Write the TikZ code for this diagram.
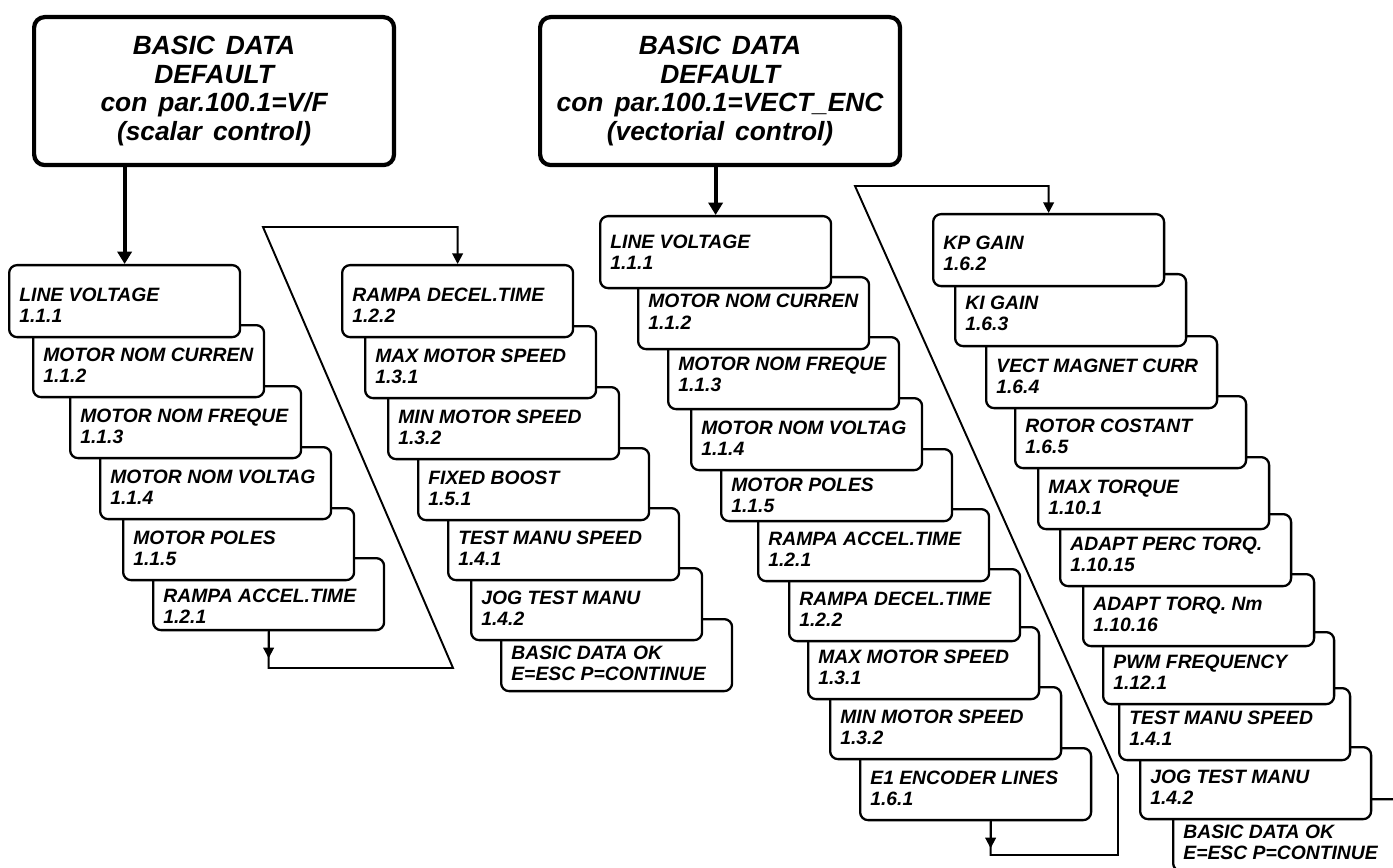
\documentclass[tikz,border=0pt]{standalone}
\usepackage{fontspec}
\setmainfont{Liberation Sans}
\usetikzlibrary{arrows.meta}

\newcommand{\headfont}{\fontsize{15}{16.2}\selectfont\bfseries\itshape\spaceskip=0.42em\relax}

\tikzset{
  item/.style={draw, fill=white, line width=1.3pt, rounded corners=4.5pt,
    anchor=north west, minimum width=4.62cm, minimum height=1.44cm, inner sep=0pt},
  itemtext/.style={anchor=base west, inner sep=0pt,
    font=\fontsize{11}{13}\selectfont\bfseries\itshape},
  head/.style={draw, fill=white, line width=2.4pt, rounded corners=6pt,
    anchor=north west, minimum width=7.2cm, minimum height=2.96cm,
    align=center, inner sep=0pt, font=\headfont},
  loop/.style={line width=1.1pt, -{Triangle[length=6pt,width=6pt]}},
  feed/.style={line width=2.4pt, -{Triangle[length=7pt,width=8pt]}},
}

% one menu screen: [baseline drop], name, top-left corner, title, parameter number
\newcommand{\menuitem}[5][37]{%
  \node[item] (#2) at (#3) {};
  \node[itemtext] at ([shift={(11,#1)}]#2.north west) {#4};
  \node[itemtext] at ([shift={(11,#1+21)}]#2.north west) {#5};
}

\begin{document}
\begin{tikzpicture}[x=0.02cm, y=-0.02cm]
  \useasboundingbox (0,0) rectangle (1393,868);
  \fill[white] (0,0) rectangle (1393,868);
  \clip (0,0) rectangle (1393,868);

  % start screens
  \node[head] (hs) at (32,15) {BASIC DATA\\DEFAULT\\con par.100.1=V/F\\(scalar control)};
  \node[head] (hv) at (538,15) {BASIC DATA\\DEFAULT\\con par.100.1=VECT\_ENC\\(vectorial control)};

  % scalar control, first page (drawn bottom-up so each box covers the next)
  \menuitem[45]{sa6}{152,557}{RAMPA ACCEL.TIME}{1.2.1}
  \menuitem{sa5}{122,507}{MOTOR POLES}{1.1.5}
  \menuitem{sa4}{99,446}{MOTOR NOM VOLTAG}{1.1.4}
  \menuitem{sa3}{69,385}{MOTOR NOM FREQUE}{1.1.3}
  \menuitem{sa2}{32,324}{MOTOR NOM CURREN}{1.1.2}
  \menuitem{sa1}{8,264}{LINE VOLTAGE}{1.1.1}

  % scalar control, second page
  \menuitem[41]{sb7}{500,618}{BASIC DATA OK}{E=ESC P=CONTINUE}
  \menuitem{sb6}{470,567}{JOG TEST MANU}{1.4.2}
  \menuitem{sb5}{447,507}{TEST MANU SPEED}{1.4.1}
  \menuitem{sb4}{417,447}{FIXED BOOST}{1.5.1}
  \menuitem{sb3}{387,386}{MIN MOTOR SPEED}{1.3.2}
  \menuitem{sb2}{364,325}{MAX MOTOR SPEED}{1.3.1}
  \menuitem{sb1}{341,264}{RAMPA DECEL.TIME}{1.2.2}

  % vectorial control, first page
  \menuitem{va10}{859,747}{E1 ENCODER LINES}{1.6.1}
  \menuitem{va9}{829,686}{MIN MOTOR SPEED}{1.3.2}
  \menuitem{va8}{807,626}{MAX MOTOR SPEED}{1.3.1}
  \menuitem{va7}{788,568}{RAMPA DECEL.TIME}{1.2.2}
  \menuitem{va6}{757,508}{RAMPA ACCEL.TIME}{1.2.1}
  \menuitem[43]{va5}{720,448}{MOTOR POLES}{1.1.5}
  \menuitem{va4}{690,397}{MOTOR NOM VOLTAG}{1.1.4}
  \menuitem[34]{va3}{667,336}{MOTOR NOM FREQUE}{1.1.3}
  \menuitem[32]{va2}{637,276}{MOTOR NOM CURREN}{1.1.2}
  \menuitem[34]{va1}{599,215}{LINE VOLTAGE}{1.1.1}

  % vectorial control, second page
  \menuitem[40]{vb11}{1172,798}{BASIC DATA OK}{E=ESC P=CONTINUE}
  \menuitem{vb10}{1139,746}{JOG TEST MANU}{1.4.2}
  \menuitem{vb9}{1118,687}{TEST MANU SPEED}{1.4.1}
  \menuitem{vb8}{1102,631}{PWM FREQUENCY}{1.12.1}
  \menuitem{vb7}{1082,573}{ADAPT TORQ. Nm}{1.10.16}
  \menuitem{vb6}{1059,513}{ADAPT PERC TORQ.}{1.10.15}
  \menuitem{vb5}{1037,456}{MAX TORQUE}{1.10.1}
  \menuitem{vb4}{1014,395}{ROTOR COSTANT}{1.6.5}
  \menuitem{vb3}{985,335}{VECT MAGNET CURR}{1.6.4}
  \menuitem{vb2}{954,273}{KI GAIN}{1.6.3}
  \menuitem{vb1}{932,213}{KP GAIN}{1.6.2}

  % start screen into first item
  \draw[feed] (sa1.north |- hs.south) -- (sa1.north);
  \draw[feed] (va1.north |- hv.south) -- (va1.north);

  % page turn, scalar
  \coordinate (sl) at (453,668);
  \coordinate (st) at (263,227);
  \draw[loop] (sa6.south) -- ++(0,27);
  \draw[loop] (sa6.south) |- (sl) -- (st) -| (sb1.north);

  % page turn, vectorial
  \coordinate (vo) at ([shift={(15,0)}]va10.south);
  \coordinate (vl) at (1118,855);
  \coordinate (vm) at (1118,775);
  \coordinate (vt) at (855,186);
  \draw[loop] (vo) -- ++(0,27);
  \draw[loop] (vo) |- (vl) -- (vm) -- (vt) -| (vb1.north);
\end{tikzpicture}
\end{document}
